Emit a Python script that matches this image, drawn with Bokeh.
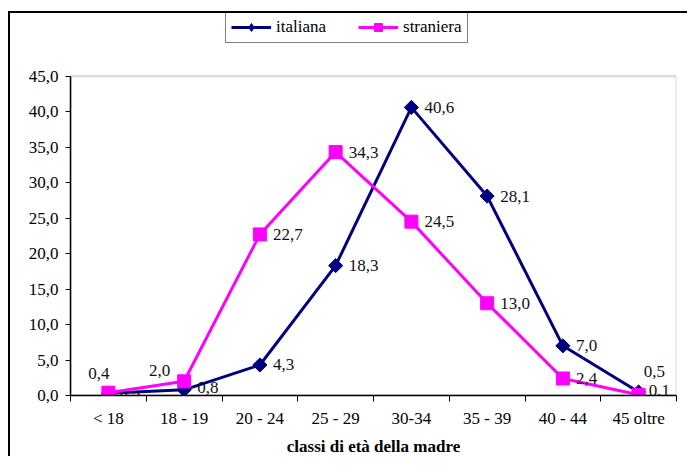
import math
from bokeh.plotting import figure
from bokeh.models import (ColumnDataSource, Range1d, FixedTicker, Legend, LegendItem,
                          BoxAnnotation)
from bokeh.embed import file_html
from bokeh.resources import INLINE

# ---- data ----
categories = ["< 18", "18 - 19", "20 - 24", "25 - 29", "30-34", "35 - 39", "40 - 44", "45 oltre"]
italiana = [0.3, 0.8, 4.3, 18.3, 40.6, 28.1, 7.0, 0.5]
straniera = [0.4, 2.0, 22.7, 34.3, 24.5, 13.0, 2.4, 0.1]
y_ticks = [0, 5, 10, 15, 20, 25, 30, 35, 40, 45]
x_title = "classi di età della madre"

# ---- label placement (layout, pixels) ----
ita_dx = [11, 13, 13, 13, 13, 13, 13, 5]
ita_dy = [4, -2, 0, 0, 0, 0, 0, -20]
ita_align = ["left"] * 8
str_dx = [1, -14, 13, 13, 13, 13, 13, 10]
str_dy = [-19, -11, 0, 0, 0, 0, 0, -4]
str_align = ["right", "right"] + ["left"] * 6

def fmt(v):
    return f"{v:.1f}".replace(".", ",")

n = len(categories)
xs = [i + 0.5 for i in range(n)]

src_i = ColumnDataSource(dict(x=xs, y=italiana, lab=[fmt(v) for v in italiana],
                              dx=ita_dx, dy=ita_dy, al=ita_align))
src_s = ColumnDataSource(dict(x=xs, y=straniera, lab=[fmt(v) for v in straniera],
                              dx=str_dx, dy=str_dy, al=str_align))

FONT = "Liberation Serif"
FS = "17px"
NAVY = "#000080"
PINK = "#FF00FF"

# layout: value area is 321 px tall inside a 384 px frame (legend sits above it)
H_TOTAL, H_PLOT = 384, 321
y_top = y_ticks[-1] * H_TOTAL / H_PLOT

p = figure(width=679, height=445, output_backend="svg", toolbar_location=None,
           x_range=Range1d(0, n), y_range=Range1d(y_ticks[0], y_top),
           min_border_left=60, min_border_right=13, min_border_top=0, min_border_bottom=61)
p.styles = {"margin-top": "11px", "margin-left": "8px",
            "border-top": "2px solid black", "border-left": "2px solid black"}

p.xgrid.visible = False
p.ygrid.visible = False
p.outline_line_color = None
p.background_fill_color = "white"
p.border_fill_color = "white"

# plot-area border (grey), left/bottom covered by the axes
p.add_layout(BoxAnnotation(left=0, right=n, bottom=y_ticks[0], top=y_ticks[-1],
                           fill_alpha=0, line_color="#909090", line_width=2.5, level="underlay"))

# y axis
p.yaxis.ticker = FixedTicker(ticks=y_ticks)
p.yaxis.bounds = (y_ticks[0], y_ticks[-1])
p.yaxis.major_label_overrides = {t: fmt(t) for t in y_ticks}
p.yaxis.major_tick_out = 5
p.yaxis.major_tick_in = 0
p.yaxis.minor_tick_line_color = None
p.yaxis.major_label_standoff = 7
p.yaxis.axis_line_color = "black"
p.yaxis.axis_line_width = 1.5
p.yaxis.major_label_text_font = FONT
p.yaxis.major_label_text_font_size = FS
p.yaxis.major_label_text_color = "black"

# x axis: labels at category centers, ticks at boundaries
p.xaxis.ticker = FixedTicker(ticks=xs, minor_ticks=list(range(n + 1)))
p.xaxis.major_label_overrides = {x: c for x, c in zip(xs, categories)}
p.xaxis.major_tick_out = 0
p.xaxis.major_tick_in = 0
p.xaxis.minor_tick_out = 6
p.xaxis.minor_tick_in = 0
p.xaxis.minor_tick_line_color = "black"
p.xaxis.major_label_standoff = 7
p.xaxis.axis_line_color = "black"
p.xaxis.axis_line_width = 1.5
p.xaxis.major_label_text_font = FONT
p.xaxis.major_label_text_font_size = FS
p.xaxis.major_label_text_color = "black"
p.xaxis.axis_label = x_title
p.xaxis.axis_label_text_font = FONT
p.xaxis.axis_label_text_font_size = FS
p.xaxis.axis_label_text_font_style = "bold"
p.xaxis.axis_label_text_color = "black"
p.xaxis.axis_label_standoff = 6

# series
li = p.line("x", "y", source=src_i, line_color=NAVY, line_width=3)
# diamond used for the legend swatch; sits fully beneath the rotated-square markers
leg_i = p.scatter("x", "y", source=src_i, marker="diamond", size=10,
                  fill_color=NAVY, line_color=NAVY)
si = p.scatter("x", "y", source=src_i, marker="square", size=10, angle=math.pi / 4,
               fill_color=NAVY, line_color=NAVY)
ls = p.line("x", "y", source=src_s, line_color=PINK, line_width=3)
ss = p.scatter("x", "y", source=src_s, marker="square", size=13,
               fill_color=PINK, line_color=PINK)

p.text("x", "y", text="lab", source=src_i, x_offset="dx", y_offset="dy", text_align="al",
       text_baseline="middle", text_font=FONT, text_font_size=FS, text_color="#111111")
p.text("x", "y", text="lab", source=src_s, x_offset="dx", y_offset="dy", text_align="al",
       text_baseline="middle", text_font=FONT, text_font_size=FS, text_color="#111111")

legend = Legend(items=[LegendItem(label="italiana", renderers=[li, leg_i]),
                       LegendItem(label="straniera", renderers=[ls, ss])],
                orientation="horizontal", location=(155, 352),
                border_line_color="black", border_line_width=1.5,
                background_fill_color="white", background_fill_alpha=1,
                label_text_font=FONT, label_text_font_size=FS, label_text_color="black",
                glyph_width=40, glyph_height=20, label_standoff=5, spacing=32,
                padding=5, margin=0)
p.add_layout(legend)

open("out.html", "w").write(file_html(p, INLINE))
